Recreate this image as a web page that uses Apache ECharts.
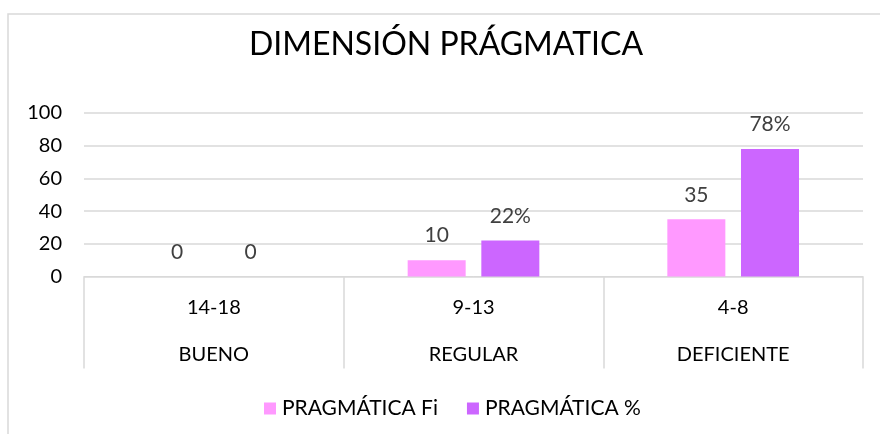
<!DOCTYPE html>
<html>
<head>
<meta charset="utf-8">
<script src="https://cdn.jsdelivr.net/npm/echarts@6/dist/echarts.min.js"></script>
<style>html,body{margin:0;padding:0;background:#fff;}#c{width:880px;height:434px;}</style>
</head>
<body>
<div id="c"></div>
<script>
var ranges = ['14-18', '9-13', '4-8'];
var levels = ['BUENO', 'REGULAR', 'DEFICIENTE'];
var fiValues = [0, 10, 35];
var pctValues = [0, 22, 78];
var yTicks = [0, 20, 40, 60, 80, 100];

var FONT = 'Lato';
var chart = echarts.init(document.getElementById('c'));
var categories = ranges.map(function (r, i) { return r + '\n\n' + levels[i]; });

chart.setOption({
  animation: false,
  backgroundColor: '#fff',
  graphic: [{
    type: 'rect', shape: { x: 8, y: 14, width: 1000, height: 600 },
    style: { fill: 'none', stroke: '#d9d9d9', lineWidth: 1.5 }, silent: true, z: -1
  }],
  title: {
    text: 'DIMENSIÓN PRÁGMATICA', left: 441, top: 24, textAlign: 'center',
    textStyle: { fontFamily: FONT, fontSize: 32, fontWeight: 'normal', color: '#000' }
  },
  legend: {
    left: 264, top: 398, padding: 0, itemWidth: 12, itemHeight: 12, itemGap: 29, icon: 'rect',
    textStyle: { fontFamily: FONT, fontSize: 21, color: '#000', padding: [0, 0, 0, 1] },
    data: ['PRAGMÁTICA Fi', 'PRAGMÁTICA %']
  },
  grid: { left: 84, right: 17, top: 113, bottom: 157.5, containLabel: false },
  xAxis: {
    type: 'category', data: categories,
    axisLine: { show: true, lineStyle: { color: '#d9d9d9', width: 1 } },
    axisTick: { show: true, interval: 0, length: 92, lineStyle: { color: '#d9d9d9', width: 1.5 } },
    axisLabel: { interval: 0, margin: 19, fontFamily: FONT, fontSize: 20, color: '#000', lineHeight: 23.5 }
  },
  yAxis: {
    type: 'value', min: yTicks[0], max: yTicks[yTicks.length - 1], interval: 20,
    axisLine: { show: false }, axisTick: { show: false },
    axisLabel: { margin: 22, fontFamily: FONT, fontSize: 20, color: '#000' },
    splitLine: { lineStyle: { color: '#d9d9d9', width: 1.5 } }
  },
  series: [{
    name: 'PRAGMÁTICA Fi', type: 'bar', data: fiValues, barWidth: 58, barGap: '27%',
    itemStyle: { color: '#FF99FF' },
    label: { show: true, position: 'top', distance: 14, fontFamily: FONT, fontSize: 21, color: '#404040' }
  }, {
    name: 'PRAGMÁTICA %', type: 'bar', data: pctValues, barWidth: 58,
    itemStyle: { color: '#CC66FF' },
    label: { show: true, position: 'top', distance: 14, fontFamily: FONT, fontSize: 21, color: '#404040',
      formatter: function (p) { return p.value === 0 ? '0' : p.value + '%'; } }
  }]
});
</script>
</body>
</html>
